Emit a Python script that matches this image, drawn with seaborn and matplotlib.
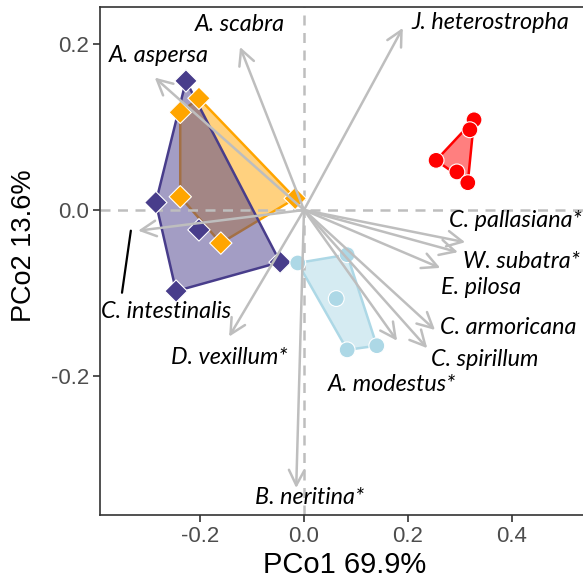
import numpy as np
import pandas as pd
import matplotlib
matplotlib.use("Agg")
import matplotlib.pyplot as plt
import seaborn as sns
from matplotlib.patches import Polygon

# ---- data ----
purple_x = [-0.227, -0.285, -0.202, -0.046, -0.246]
purple_y = [0.156, 0.009, -0.024, -0.063, -0.098]
orange_x = [-0.202, -0.238, -0.238, -0.160, -0.017]
orange_y = [0.135, 0.118, 0.016, -0.040, 0.014]
blue_x = [-0.012, 0.083, 0.062, 0.083, 0.140]
blue_y = [-0.064, -0.054, -0.107, -0.169, -0.164]
red_x = [0.327, 0.319, 0.254, 0.294, 0.315]
red_y = [0.109, 0.097, 0.060, 0.046, 0.033]

species = ["A. scabra", "J. heterostropha", "A. aspersa", "C. intestinalis",
           "D. vexillum*", "B. neritina*", "A. modestus*", "C. spirillum",
           "C. armoricana", "E. pilosa", "W. subatra*", "C. pallasiana*"]
arrow_x = [-0.123, 0.190, -0.287, -0.319, -0.144, -0.015, 0.179, 0.237,
           0.252, 0.262, 0.296, 0.310]
arrow_y = [0.197, 0.220, 0.160, -0.025, -0.153, -0.336, -0.158, -0.167,
           -0.145, -0.070, -0.051, -0.039]
label_x = [-0.123, 0.358, -0.279, -0.265, -0.144, 0.010, 0.169, 0.348,
           0.392, 0.340, 0.419, 0.406]
label_y = [0.224, 0.226, 0.187, -0.123, -0.178, -0.348, -0.211, -0.181,
           -0.142, -0.094, -0.062, -0.013]
leader_x = [-0.333, -0.350]
leader_y = [-0.025, -0.100]

x_ticks = [-0.2, 0.0, 0.2, 0.4]
y_ticks = [-0.2, 0.0, 0.2]
x_title = "PCo1 69.9%"
y_title = "PCo2 13.6%"

colors = {"purple": "#483D8B", "orange": "#FFA500", "blue": "#ADD8E6", "red": "#FF0000"}
markers = {"purple": "D", "orange": "D", "blue": "o", "red": "o"}

df = pd.concat([
    pd.DataFrame({"x": purple_x, "y": purple_y, "g": "purple"}),
    pd.DataFrame({"x": orange_x, "y": orange_y, "g": "orange"}),
    pd.DataFrame({"x": blue_x, "y": blue_y, "g": "blue"}),
    pd.DataFrame({"x": red_x, "y": red_y, "g": "red"}),
], ignore_index=True)


def hull(pts):
    pts = sorted(set(pts))
    def cross(o, a, b):
        return (a[0]-o[0])*(b[1]-o[1]) - (a[1]-o[1])*(b[0]-o[0])
    lower, upper = [], []
    for p in pts:
        while len(lower) >= 2 and cross(lower[-2], lower[-1], p) <= 0:
            lower.pop()
        lower.append(p)
    for p in reversed(pts):
        while len(upper) >= 2 and cross(upper[-2], upper[-1], p) <= 0:
            upper.pop()
        upper.append(p)
    return lower[:-1] + upper[:-1]


sns.set_theme(style="white")
fig = plt.figure(figsize=(5.83, 5.85), dpi=100)
ax = fig.add_axes([100/583, 1-515/585, 490/583, 508/585])

x0_px = 304.0
x_scale = 520.0
ax.set_xlim((100 - x0_px)/x_scale, (590 - x0_px)/x_scale)
y0_px = 210.0
y_scale = 827.5
ax.set_ylim((y0_px - 515)/y_scale, (y0_px - 7)/y_scale)

# reference lines
ax.axhline(0, color="#BEBEBE", lw=1.8, ls=(0, (4, 3)), zorder=2)
ax.axvline(0, color="#BEBEBE", lw=1.8, ls=(0, (4, 3)), zorder=2)

# hulls: orange first, then purple, blue, red (fill and edge layered per group)
z = 1.0
for g in ["orange", "purple", "blue", "red"]:
    sub = df[df.g == g]
    h = hull(list(zip(sub.x, sub.y)))
    ax.add_patch(Polygon(h, closed=True, facecolor=colors[g], alpha=0.5,
                         edgecolor="none", zorder=z))
    ax.add_patch(Polygon(h, closed=True, facecolor="none",
                         edgecolor=colors[g], lw=1.8, zorder=z + 0.01))
    z += 0.02

sns.scatterplot(data=df, x="x", y="y", hue="g", style="g", palette=colors,
                markers=markers, s=130, edgecolor="white", linewidth=0.8,
                legend=False, ax=ax, zorder=3)

# arrows
for ex, ey in zip(arrow_x, arrow_y):
    ax.annotate("", xy=(ex, ey), xytext=(0, 0),
                arrowprops=dict(arrowstyle="->,head_length=0.55,head_width=0.28",
                                color="#BEBEBE", lw=1.8, mutation_scale=20,
                                shrinkA=0, shrinkB=0),
                zorder=4)

for name, lx, ly in zip(species, label_x, label_y):
    ax.text(lx, ly, name, ha="center", va="center", fontsize=16.8,
            fontstyle="italic", family="Lato", color="black", zorder=5)

ax.plot(leader_x, leader_y, color="black", lw=1.6, zorder=5)

ax.set_xticks(x_ticks)
ax.set_yticks(y_ticks)
ax.set_xticklabels([f"{v:.1f}" for v in x_ticks])
ax.set_yticklabels([f"{v:.1f}" for v in y_ticks])
ax.tick_params(axis="both", which="both", length=5, width=1.2, color="#333333",
               labelsize=16, labelcolor="#4D4D4D", bottom=True, left=True, pad=3)
for lab in ax.get_xticklabels() + ax.get_yticklabels():
    lab.set_family("Liberation Sans")
ax.set_xlabel(x_title, fontsize=21, family="Liberation Sans", color="black", labelpad=3)
ax.set_ylabel(y_title, fontsize=19.5, family="Liberation Sans", color="black")
ax.yaxis.set_label_coords(-0.128, 0.531)

for side in ["left", "bottom", "top", "right"]:
    ax.spines[side].set_color("#333333")
    ax.spines[side].set_linewidth(1.2)
ax.grid(False)

fig.savefig("out.png", dpi=100)
